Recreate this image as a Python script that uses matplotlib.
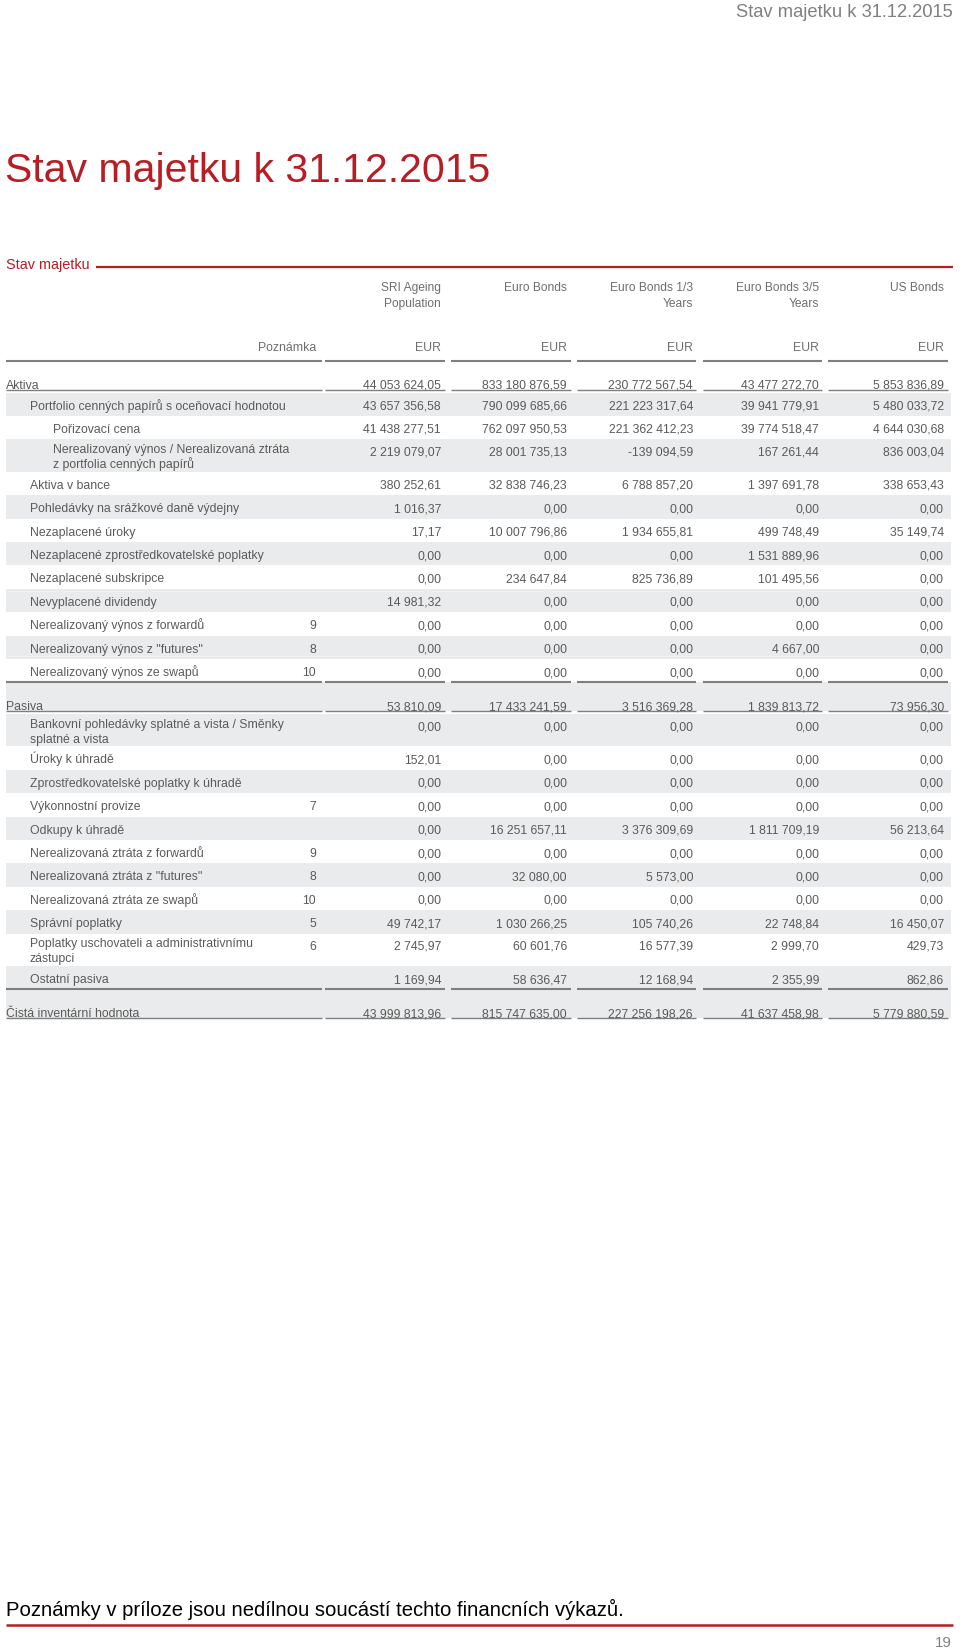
import matplotlib
matplotlib.use("Agg")
import matplotlib.pyplot as plt
from matplotlib.patches import Rectangle

plt.rcParams['font.family'] = ['Liberation Sans', 'DejaVu Sans']

# ---------------- data ----------------
doc_header = "Stav majetku k 31.12.2015"
title = "Stav majetku k 31.12.2015"
section_label = "Stav majetku"
fund_names = ["SRI Ageing\nPopulation", "Euro Bonds", "Euro Bonds 1/3\nYears",
              "Euro Bonds 3/5\nYears", "US Bonds"]
currencies = ["EUR", "EUR", "EUR", "EUR", "EUR"]
note_header = "Poznámka"

aktiva_label = "Aktiva"
aktiva_total = [44053624.05, 833180876.59, 230772567.54, 43477272.70, 5853836.89]
aktiva_labels = ["Portfolio cenných papírů s oceňovací hodnotou",
                 "Pořizovací cena",
                 "Nerealizovaný výnos / Nerealizovaná ztráta\nz portfolia cenných papírů",
                 "Aktiva v bance",
                 "Pohledávky na srážkové daně výdejny",
                 "Nezaplacené úroky",
                 "Nezaplacené zprostředkovatelské poplatky",
                 "Nezaplacené subskripce",
                 "Nevyplacené dividendy",
                 "Nerealizovaný výnos z forwardů",
                 "Nerealizovaný výnos z \"futures\"",
                 "Nerealizovaný výnos ze swapů"]
aktiva_notes = ["", "", "", "", "", "", "", "", "", "9", "8", "10"]
aktiva_levels = [2, 3, 3, 2, 2, 2, 2, 2, 2, 2, 2, 2]
aktiva_sri = [43657356.58, 41438277.51, 2219079.07, 380252.61, 1016.37, 17.17,
              0.00, 0.00, 14981.32, 0.00, 0.00, 0.00]
aktiva_eb = [790099685.66, 762097950.53, 28001735.13, 32838746.23, 0.00, 10007796.86,
             0.00, 234647.84, 0.00, 0.00, 0.00, 0.00]
aktiva_eb13 = [221223317.64, 221362412.23, -139094.59, 6788857.20, 0.00, 1934655.81,
               0.00, 825736.89, 0.00, 0.00, 0.00, 0.00]
aktiva_eb35 = [39941779.91, 39774518.47, 167261.44, 1397691.78, 0.00, 499748.49,
               1531889.96, 101495.56, 0.00, 0.00, 4667.00, 0.00]
aktiva_us = [5480033.72, 4644030.68, 836003.04, 338653.43, 0.00, 35149.74,
             0.00, 0.00, 0.00, 0.00, 0.00, 0.00]

pasiva_label = "Pasiva"
pasiva_total = [53810.09, 17433241.59, 3516369.28, 1839813.72, 73956.30]
pasiva_labels = ["Bankovní pohledávky splatné a vista / Směnky\nsplatné a vista",
                 "Úroky k úhradě",
                 "Zprostředkovatelské poplatky k úhradě",
                 "Výkonnostní provize",
                 "Odkupy k úhradě",
                 "Nerealizovaná ztráta z forwardů",
                 "Nerealizovaná ztráta z \"futures\"",
                 "Nerealizovaná ztráta ze swapů",
                 "Správní poplatky",
                 "Poplatky uschovateli a administrativnímu\nzástupci",
                 "Ostatní pasiva"]
pasiva_notes = ["", "", "", "7", "", "9", "8", "10", "5", "6", ""]
pasiva_sri = [0.00, 152.01, 0.00, 0.00, 0.00, 0.00, 0.00, 0.00, 49742.17, 2745.97, 1169.94]
pasiva_eb = [0.00, 0.00, 0.00, 0.00, 16251657.11, 0.00, 32080.00, 0.00, 1030266.25, 60601.76, 58636.47]
pasiva_eb13 = [0.00, 0.00, 0.00, 0.00, 3376309.69, 0.00, 5573.00, 0.00, 105740.26, 16577.39, 12168.94]
pasiva_eb35 = [0.00, 0.00, 0.00, 0.00, 1811709.19, 0.00, 0.00, 0.00, 22748.84, 2999.70, 2355.99]
pasiva_us = [0.00, 0.00, 0.00, 0.00, 56213.64, 0.00, 0.00, 0.00, 16450.07, 429.73, 862.86]

nav_label = "Čistá inventární hodnota"
nav_total = [43999813.96, 815747635.00, 227256198.26, 41637458.98, 5779880.59]

footer_text = "Poznámky v príloze jsou nedílnou soucástí techto financních výkazů."
page_number = "19"

# ---------------- style / layout ----------------
RED = "#b81d24"
TXT = "#5a5a5a"
HDR = "#6e6e6e"
LINE = "#7f7f7f"
BAND = "#eaebed"
PX = 0.72          # px -> pt at dpi 100
FS = 12.2 * PX     # body font size
BASE = 4.4         # center -> baseline offset (px)

col_right = [441, 567, 693, 819, 944]
col_segs = [(325, 445), (451, 571), (577, 696), (703, 822), (828, 948)]
label_seg = (6, 322)
note_right = 316
band_x0, band_x1 = 6, 951
indent = {1: 6, 2: 30, 3: 53}
ROW1 = 23.4
ROW2 = 32.5


def fmt(v):
    s = f"{v:,.2f}"
    return s.replace(",", " ").replace(".", ",")


fig = plt.figure(figsize=(9.6, 16.49), dpi=100)
ax = fig.add_axes([0, 0, 1, 1])
ax.set_xlim(0, 960)
ax.set_ylim(1649, 0)
ax.axis("off")


def segs_line(y, lw):
    for x0, x1 in [label_seg] + col_segs:
        ax.plot([x0, x1], [y, y], color=LINE, lw=lw, solid_capstyle="butt")


def txt(x, y, s, ha="left", **kw):
    ax.text(x, y + BASE, s, ha=ha, va="baseline", fontsize=kw.pop("fs", FS),
            color=kw.pop("color", TXT), **kw)


# page header
ax.text(953, 16.8, doc_header, ha="right", va="baseline", fontsize=18.4 * PX, color="#808080")
ax.text(5, 182, title, ha="left", va="baseline", fontsize=41 * PX, color=RED)
ax.text(6, 269, section_label, ha="left", va="baseline", fontsize=14.4 * PX, color=RED)
ax.plot([96, 953], [268, 268], color=RED, lw=1.6, solid_capstyle="butt")

# column headers
for xr, name in zip(col_right, fund_names):
    for i, line in enumerate(name.split("\n")):
        ax.text(xr, 287 + 16 * i + 4.3, line, ha="right", va="baseline",
                fontsize=12 * PX, color=HDR)
for xr, cur in zip(col_right, currencies):
    txt(xr, 347, cur, ha="right", color=HDR)
txt(note_right, 347, note_header, ha="right", color=HDR)


def total_row(top, label, vals, band):
    if band:
        ax.add_patch(Rectangle((band_x0, top), band_x1 - band_x0, 28.5, color=BAND, lw=0))
    segs_line(top, 1.5)
    yc = top + 22.3
    txt(indent[1], yc, label)
    for xr, v in zip(col_right, vals):
        txt(xr, yc, fmt(v), ha="right")
    segs_line(top + 28.5, 1.0)
    return top + 31.5


def detail_rows(top, labels, notes, levels, cols):
    y = top
    for i, (lab, note) in enumerate(zip(labels, notes)):
        lines = lab.split("\n")
        h = ROW1 if len(lines) == 1 else ROW2
        if i % 2 == 0:
            ax.add_patch(Rectangle((band_x0, y), band_x1 - band_x0, h, color=BAND, lw=0))
        lvl = levels[i] if levels else 2
        if len(lines) == 1:
            yc = y + h / 2
            yv = yc
            txt(indent[lvl], yc, lab)
        else:
            for k, ln in enumerate(lines):
                txt(indent[lvl], y + 8.3 + 15 * k, ln)
            yv = y + 11
        if note:
            txt(note_right, yv, note, ha="right")
        for xr, col in zip(col_right, cols):
            txt(xr, yv, fmt(col[i]), ha="right")
        y += h
    return y


y = 362
y = total_row(y, aktiva_label, aktiva_total, band=False)
y = detail_rows(y, aktiva_labels, aktiva_notes, aktiva_levels,
                [aktiva_sri, aktiva_eb, aktiva_eb13, aktiva_eb35, aktiva_us])
y = total_row(y, pasiva_label, pasiva_total, band=True)
y = detail_rows(y, pasiva_labels, pasiva_notes, None,
                [pasiva_sri, pasiva_eb, pasiva_eb13, pasiva_eb35, pasiva_us])
y = total_row(y, nav_label, nav_total, band=True)

# footer
ax.text(6, 1616, footer_text, ha="left", va="baseline", fontsize=20.3 * PX, color="#000000")
ax.plot([6, 953], [1626, 1626], color=RED, lw=1.8, solid_capstyle="butt")
ax.text(952, 1647, page_number, ha="right", va="baseline", fontsize=15 * PX, color="#808080")

fig.savefig("out.png", dpi=100, facecolor="white")
